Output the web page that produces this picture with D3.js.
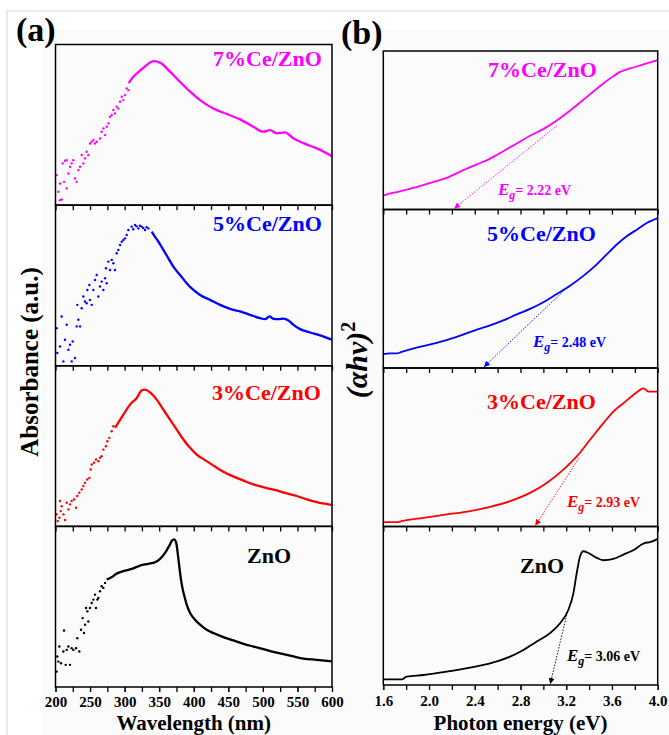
<!DOCTYPE html>
<html>
<head>
<meta charset="utf-8">
<script src="https://cdn.jsdelivr.net/npm/d3@7"></script>
<style>
body { margin: 0; background: #fff; }
text { font-family: "Liberation Serif", "Times New Roman", serif; font-weight: bold; }
</style>
</head>
<body>
<svg id="fig" width="669" height="735"></svg>
<script>
// ---- data (a): absorbance, normalised per panel ----
var labels = ["7%Ce/ZnO", "5%Ce/ZnO", "3%Ce/ZnO", "ZnO"];
var colors = ["#ff00ff", "#0000ff", "#ff0000", "#000000"];

var wl7Dots = [201.7,204.1,206.5,208.9,206.5,210.4,213.8,216.2,212.3,216.2,218.6,221.0,223.4,225.8,228.2,230.7,233.1,235.5,237.9,240.3,242.7,245.1,247.5,249.9,252.4,254.8,257.2,259.6,264.4,266.8,269.2,271.7,274.1,276.5,278.9,281.3,283.7,286.1,288.5,290.9,293.4,295.8,298.2,300.6,303.0,305.4];
var ab7Dots = [0.187,0.083,0.031,0.035,0.135,0.260,0.276,0.280,0.145,0.104,0.197,0.239,0.260,0.280,0.166,0.145,0.218,0.239,0.312,0.260,0.291,0.332,0.312,0.384,0.395,0.405,0.384,0.395,0.415,0.457,0.478,0.436,0.488,0.509,0.550,0.561,0.592,0.571,0.613,0.602,0.644,0.675,0.654,0.685,0.727,0.716];
var wl7Line = [306,312.6,322.3,332,341.5,351.2,365.7,380,394.7,409,428.4,447.7,467,486.3,500.7,510.4,520,532,544,558.6,578,600];
var ab7Line = [0.760,0.799,0.837,0.872,0.897,0.887,0.831,0.768,0.706,0.654,0.602,0.567,0.534,0.488,0.457,0.467,0.447,0.453,0.416,0.386,0.353,0.305];

var wl5Dots = [201.7,202.7,206.5,208.9,211.4,213.8,216.2,218.6,221.0,223.4,224.9,228.2,230.7,233.1,235.5,231.6,237.9,240.3,242.7,245.1,246.1,249.0,249.9,252.4,254.8,257.2,259.6,262.0,264.4,266.8,269.2,271.7,273.1,274.1,276.5,278.9,281.3,283.7,286.1,288.5,290.9,293.4,295.8,298.2,300.6,303.0,305.4,310.2,315.1,319.9,324.7,329.5,334.4,312.5,317.3,322.1,327.0,331.8];
var ab5Dots = [0.234,0.079,0.120,0.307,0.027,0.162,0.255,0.100,0.131,0.027,0.151,0.048,0.245,0.286,0.245,0.379,0.358,0.431,0.400,0.389,0.472,0.503,0.410,0.379,0.472,0.534,0.565,0.431,0.493,0.524,0.472,0.545,0.607,0.514,0.648,0.596,0.659,0.638,0.596,0.700,0.721,0.752,0.772,0.783,0.793,0.814,0.845,0.866,0.876,0.855,0.866,0.845,0.855,0.850,0.868,0.872,0.858,0.862];
var wl5Line = [339.2,344.0,348.8,356.1,363.3,370.5,380.2,389.8,399.5,409.1,423.6,438.1,452.6,467.0,481.5,496.0,503.2,509.5,515.3,522.5,529.7,537.0,544.2,553.9,568.3,582.8,600];
var ab5Line = [0.835,0.803,0.772,0.721,0.669,0.617,0.565,0.514,0.472,0.441,0.410,0.379,0.354,0.338,0.317,0.296,0.290,0.307,0.292,0.290,0.294,0.282,0.255,0.228,0.207,0.189,0.162];

var wl3Dots = [201.7,203.2,205.6,207.5,208.9,211.4,213.8,216.2,218.6,221.0,223.4,226.8,229.7,231.6,234.5,237.9,240.3,242.7,246.1,249.0,250.9,252.4,255.7,258.6,262.0,264.4,266.8,269.2,273.1,275.0,277.9,281.3,283.7,206.5];
var ab3Dots = [0.075,0.033,0.054,0.095,0.126,0.075,0.040,0.147,0.106,0.137,0.158,0.168,0.116,0.189,0.209,0.230,0.251,0.271,0.292,0.302,0.354,0.385,0.396,0.416,0.406,0.427,0.437,0.478,0.499,0.530,0.551,0.592,0.623,0.158];
var wl3Line = [286.1,298.2,307.8,317.5,324.7,329.5,336.8,346.4,356.1,365.7,375.4,385.0,394.7,404.3,418.8,433.3,447.7,462.2,476.7,491.1,505.6,520.1,534.6,549.0,563.5,578.0,600];
var ab3Line = [0.613,0.696,0.758,0.799,0.847,0.851,0.834,0.789,0.727,0.665,0.603,0.541,0.489,0.447,0.406,0.365,0.329,0.302,0.276,0.255,0.238,0.224,0.205,0.189,0.168,0.151,0.133];

var wl0Dots = [201.7,202.7,204.1,205.6,208.0,211.4,212.3,214.7,216.2,218.6,221.0,223.4,225.8,229.7,231.6,234.5,236.9,239.3,241.3,242.7,244.2,246.1,247.5,249.9,252.4,254.8,257.2,258.6,260.6,262.0,264.4,266.8,269.2,271.7];
var ab0Dots = [0.096,0.190,0.158,0.252,0.148,0.221,0.352,0.138,0.231,0.252,0.138,0.242,0.231,0.242,0.304,0.221,0.356,0.429,0.336,0.388,0.492,0.471,0.408,0.492,0.523,0.544,0.575,0.492,0.544,0.554,0.596,0.627,0.617,0.648];
var wl0Line = [274.1,278.9,283.7,286.1,298.2,310.2,322.3,334.4,344.0,351.3,358.5,364.3,368.6,371.5,374.4,377.3,380.2,383.6,386.5,389.8,394.7,401.9,409.1,418.8,428.4,442.9,457.4,471.9,486.3,500.8,515.3,529.7,544.2,558.7,578.0,600];
var ab0Line = [0.669,0.679,0.690,0.700,0.721,0.735,0.756,0.767,0.777,0.798,0.835,0.877,0.912,0.919,0.902,0.815,0.711,0.617,0.565,0.513,0.461,0.419,0.388,0.356,0.336,0.311,0.290,0.269,0.252,0.236,0.219,0.204,0.190,0.177,0.169,0.159];

// ---- data (b): Tauc plot (alpha h nu)^2, normalised per panel ----
var e7 = [1.600,1.644,1.717,1.863,2.009,2.154,2.300,2.417,2.504,2.592,2.679,2.767,2.883,3.000,3.117,3.233,3.350,3.467,3.583,3.671,3.758,3.875,4.000];
var t7 = [0.087,0.098,0.110,0.136,0.168,0.200,0.248,0.285,0.310,0.344,0.380,0.416,0.465,0.507,0.561,0.624,0.692,0.762,0.826,0.868,0.890,0.915,0.943];
var e5 = [1.600,1.659,1.717,1.761,1.892,2.067,2.242,2.417,2.534,2.650,2.767,2.883,3.000,3.117,3.233,3.350,3.467,3.554,3.642,3.729,3.817,3.904,4.000];
var t5 = [0.088,0.092,0.092,0.102,0.129,0.158,0.196,0.242,0.269,0.300,0.338,0.373,0.415,0.467,0.519,0.581,0.654,0.717,0.779,0.831,0.873,0.915,0.946];
var e3 = [1.600,1.717,1.761,1.950,2.154,2.359,2.534,2.709,2.883,3.029,3.175,3.292,3.408,3.525,3.612,3.700,3.787,3.846,3.875,3.919,4.000];
var t3 = [0.027,0.027,0.034,0.055,0.076,0.097,0.124,0.160,0.212,0.275,0.359,0.442,0.547,0.652,0.725,0.778,0.830,0.862,0.872,0.851,0.851];
var e0 = [1.600,1.717,1.761,1.804,1.950,2.154,2.359,2.534,2.709,2.825,2.942,3.058,3.146,3.219,3.263,3.292,3.321,3.350,3.394,3.467,3.525,3.612,3.700,3.787,3.860,3.890,3.933,4.000];
var t0 = [0.036,0.036,0.036,0.053,0.063,0.084,0.110,0.137,0.179,0.221,0.274,0.327,0.390,0.475,0.580,0.707,0.812,0.844,0.833,0.802,0.787,0.795,0.823,0.850,0.886,0.897,0.901,0.922];

// band gaps and where the dotted tangent leaves the curve
var eg = [2.22, 2.48, 2.93, 3.06];
var touchE = [3.12, 3.21, 3.31, 3.21];
var touchT = [0.53, 0.51, 0.43, 0.46];

var wlTicks = [200, 250, 300, 350, 400, 450, 500, 550, 600];
var eTicks = [1.6, 2.0, 2.4, 2.8, 3.2, 3.6, 4.0];

var svg = d3.select("#fig");

// faint page frame
svg.append("rect").attr("x", 42).attr("y", 30).attr("width", 627).attr("height", 705).attr("fill", "#fbfbfb");
svg.append("path").attr("d", "M7,735V11H669").attr("fill", "none").attr("stroke", "#dcdcdc").attr("stroke-width", 1.2);

var defs = svg.append("defs");
colors.forEach(function(c, i) {
  defs.append("marker")
    .attr("id", "arr" + i)
    .attr("viewBox", "0 0 8 8")
    .attr("refX", 8).attr("refY", 4)
    .attr("markerWidth", 6).attr("markerHeight", 6)
    .attr("markerUnits", "userSpaceOnUse")
    .attr("orient", "auto")
    .append("path").attr("d", "M0,0L8,4L0,8Z").attr("fill", c);
});

/* ---------- panel (a) ---------- */
var A = {left: 55.5, right: 332, top: 44.5, bottom: 687};
var hA = (A.bottom - A.top) / 4;
var xA = d3.scaleLinear().domain([200, 600]).range([A.left, A.right]);

var dotsA = [d3.zip(wl7Dots, ab7Dots), d3.zip(wl5Dots, ab5Dots), d3.zip(wl3Dots, ab3Dots), d3.zip(wl0Dots, ab0Dots)];
var linesA = [d3.zip(wl7Line, ab7Line), d3.zip(wl5Line, ab5Line), d3.zip(wl3Line, ab3Line), d3.zip(wl0Line, ab0Line)];
var labelPosA = [[213, 66], [213, 231], [212, 400], [247, 563]];

dotsA.forEach(function(dots, i) {
  var pTop = A.top + i * hA, pBot = pTop + hA;
  var y = d3.scaleLinear().domain([0, 1]).range([pBot, pTop]);
  var g = svg.append("g");

  g.selectAll("circle").data(dots).enter().append("circle")
    .attr("cx", function(d) { return xA(d[0]); })
    .attr("cy", function(d) { return y(d[1]); })
    .attr("r", 1.2)
    .attr("fill", colors[i]);

  var line = d3.line().curve(d3.curveMonotoneX)
    .x(function(d) { return xA(d[0]); })
    .y(function(d) { return y(d[1]); });
  g.append("path").attr("d", line(linesA[i]))
    .attr("fill", "none").attr("stroke", colors[i]).attr("stroke-width", 2.3);

  g.append("text").attr("x", labelPosA[i][0]).attr("y", labelPosA[i][1])
    .attr("font-size", 22).attr("fill", colors[i]).text(labels[i]);

  // bottom axis of each panel, ticks pointing down
  var ax = g.append("g").attr("transform", "translate(0," + pBot + ")")
    .call(d3.axisBottom(xA).tickValues(d3.range(200, 601, 25)).tickSize(5).tickFormat(""));
  ax.select(".domain").remove();
  ax.selectAll("line").attr("stroke-width", 1.3);

  g.append("rect").attr("x", A.left).attr("y", pTop).attr("width", A.right - A.left).attr("height", hA)
    .attr("fill", "none").attr("stroke", "#000").attr("stroke-width", 1.5);
});

var axA = svg.append("g").attr("transform", "translate(0," + A.bottom + ")")
  .call(d3.axisBottom(xA).tickValues(wlTicks).tickSize(5).tickPadding(4).tickFormat(d3.format("d")));
axA.select(".domain").remove();
axA.selectAll("text").attr("font-size", 15).attr("font-family", "Liberation Serif").attr("font-weight", "bold");

svg.append("text").attr("x", (A.left + A.right) / 2).attr("y", 730)
  .attr("text-anchor", "middle").attr("font-size", 21).text("Wavelength (nm)");
svg.append("text").attr("transform", "translate(38,362) rotate(-90)")
  .attr("text-anchor", "middle").attr("font-size", 25).text("Absorbance (a.u.)");
svg.append("text").attr("x", 16).attr("y", 41).attr("font-size", 34).text("(a)");

/* ---------- panel (b) ---------- */
var B = {left: 383.3, right: 657.7, top: 51, bottom: 685};
var hB = (B.bottom - B.top) / 4;
var xB = d3.scaleLinear().domain([1.6, 4.0]).range([B.left, B.right]);

var linesB = [d3.zip(e7, t7), d3.zip(e5, t5), d3.zip(e3, t3), d3.zip(e0, t0)];
var labelPosB = [[488, 77], [487, 241], [487, 409], [520, 573]];
var egPos = [[498, 195], [533, 347], [567, 507], [567, 661]];

linesB.forEach(function(pts, j) {
  var pTop = B.top + j * hB, pBot = pTop + hB;
  var yB = d3.scaleLinear().domain([0, 1]).range([pBot, pTop]);
  var gb = svg.append("g");

  var lineB = d3.line().curve(d3.curveMonotoneX)
    .x(function(d) { return xB(d[0]); })
    .y(function(d) { return yB(d[1]); });
  gb.append("path").attr("d", lineB(pts))
    .attr("fill", "none").attr("stroke", colors[j]).attr("stroke-width", 1.8);

  // dotted tangent down to Eg
  gb.append("line")
    .attr("x1", xB(touchE[j])).attr("y1", yB(touchT[j]))
    .attr("x2", xB(eg[j])).attr("y2", yB(0) - 1)
    .attr("stroke", colors[j]).attr("stroke-width", 0.9)
    .attr("stroke-dasharray", "1.5,1.5")
    .attr("marker-end", "url(#arr" + j + ")");

  gb.append("text").attr("x", labelPosB[j][0]).attr("y", labelPosB[j][1])
    .attr("font-size", 22).attr("fill", colors[j]).text(labels[j]);

  var t = gb.append("text").attr("x", egPos[j][0]).attr("y", egPos[j][1]).attr("fill", colors[j]);
  t.append("tspan").attr("font-size", 17).attr("font-style", "italic").text("E");
  t.append("tspan").attr("font-size", 12).attr("font-style", "italic").attr("dy", 4).text("g");
  t.append("tspan").attr("font-size", 14).attr("dy", -4).text("= " + eg[j].toFixed(2) + " eV");

  var axb = gb.append("g").attr("transform", "translate(0," + pBot + ")")
    .call(d3.axisBottom(xB).tickValues(d3.range(1.6, 4.01, 0.2)).tickSize(5).tickFormat(""));
  axb.select(".domain").remove();
  axb.selectAll("line").attr("stroke-width", 1.3);

  gb.append("rect").attr("x", B.left).attr("y", pTop).attr("width", B.right - B.left).attr("height", hB)
    .attr("fill", "none").attr("stroke", "#000").attr("stroke-width", 1.5);
});

var axB = svg.append("g").attr("transform", "translate(0," + B.bottom + ")")
  .call(d3.axisBottom(xB).tickValues(eTicks).tickSize(5).tickPadding(5).tickFormat(d3.format(".1f")));
axB.select(".domain").remove();
axB.selectAll("text").attr("font-size", 15).attr("font-family", "Liberation Serif").attr("font-weight", "bold");

svg.append("text").attr("x", (B.left + B.right) / 2).attr("y", 730)
  .attr("text-anchor", "middle").attr("font-size", 21).text("Photon energy (eV)");

var yl = svg.append("text").attr("transform", "translate(367,360) rotate(-90)")
  .attr("text-anchor", "middle").attr("font-size", 30).attr("font-weight", "normal").attr("font-style", "italic");
yl.append("tspan").text("(\u03b1h\u03bd)");
yl.append("tspan").attr("font-size", 20).attr("dy", -12).attr("font-style", "normal").text("2");

svg.append("text").attr("x", 341).attr("y", 44).attr("font-size", 34).text("(b)");
</script>
</body>
</html>
